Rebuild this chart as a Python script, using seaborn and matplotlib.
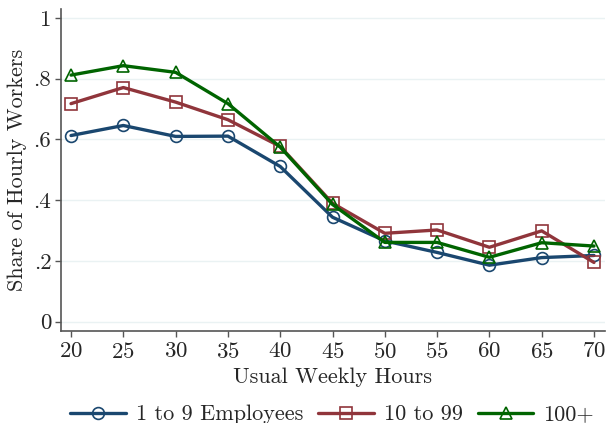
import matplotlib
matplotlib.use("Agg")
import matplotlib.pyplot as plt
import seaborn as sns

# Usual weekly hours and share of hourly workers by employer size
hours = [20, 25, 30, 35, 40, 45, 50, 55, 60, 65, 70]
small = [0.613, 0.646, 0.610, 0.611, 0.511, 0.344, 0.266, 0.228, 0.186, 0.211, 0.218]
medium = [0.718, 0.771, 0.723, 0.665, 0.577, 0.390, 0.291, 0.302, 0.245, 0.299, 0.195]
large = [0.812, 0.843, 0.821, 0.718, 0.575, 0.386, 0.261, 0.261, 0.212, 0.260, 0.249]

series_names = ["1 to 9 Employees", "10 to 99", "100+"]
yticks = [0, 0.2, 0.4, 0.6, 0.8, 1.0]
ytick_labels = ["0", ".2", ".4", ".6", ".8", "1"]

sns.set_theme(style="white")
plt.rcParams["font.family"] = ["cmr10", "DejaVu Serif"]
plt.rcParams["axes.formatter.use_mathtext"] = True

fig = plt.figure(figsize=(6.08, 4.23), dpi=100)
ax = fig.add_axes([0.1003, 0.218, 0.8947, 0.761])

colors = ["#1a476f", "#90353b", "#006400"]
markers = ["o", "s", "^"]
for vals, name, c, m in zip([small, medium, large], series_names, colors, markers):
    sns.lineplot(x=hours, y=vals, ax=ax, color=c, linewidth=2.4, marker=m,
                 markersize=8.5, markerfacecolor="none", markeredgecolor=c,
                 markeredgewidth=1.2, label=name)

ax.set_xlim(19.04, 71.05)
ax.set_ylim(-0.03, 1.03)
ax.set_xticks(hours)
ax.set_yticks(yticks)
ax.set_yticklabels(ytick_labels)
ax.tick_params(axis="both", labelsize=16.5, length=4.5, width=1, color="#555555",
               direction="out", bottom=True, left=True, pad=2.5)
ax.tick_params(axis="x", pad=3.5)
for lab in ax.get_yticklabels():
    lab.set_rotation(0)

ax.grid(axis="y", color="#eaf2f3", linewidth=1)
ax.grid(axis="x", visible=False)
for side in ["top", "right"]:
    ax.spines[side].set_visible(False)
for side in ["left", "bottom"]:
    ax.spines[side].set_color("#555555")
    ax.spines[side].set_linewidth(1.2)

ax.set_xlabel("Usual Weekly Hours", fontsize=16, labelpad=4)
ax.set_ylabel("Share of Hourly Workers", fontsize=16, labelpad=5)

ax.get_legend().remove()
handles, labels = ax.get_legend_handles_labels()
fig.legend(handles, labels, loc="center", bbox_to_anchor=(0.546, 0.02), ncol=3,
           frameon=False, fontsize=16, handlelength=2.5, handletextpad=0.45,
           columnspacing=0.68)

fig.savefig("out.png", dpi=100)
